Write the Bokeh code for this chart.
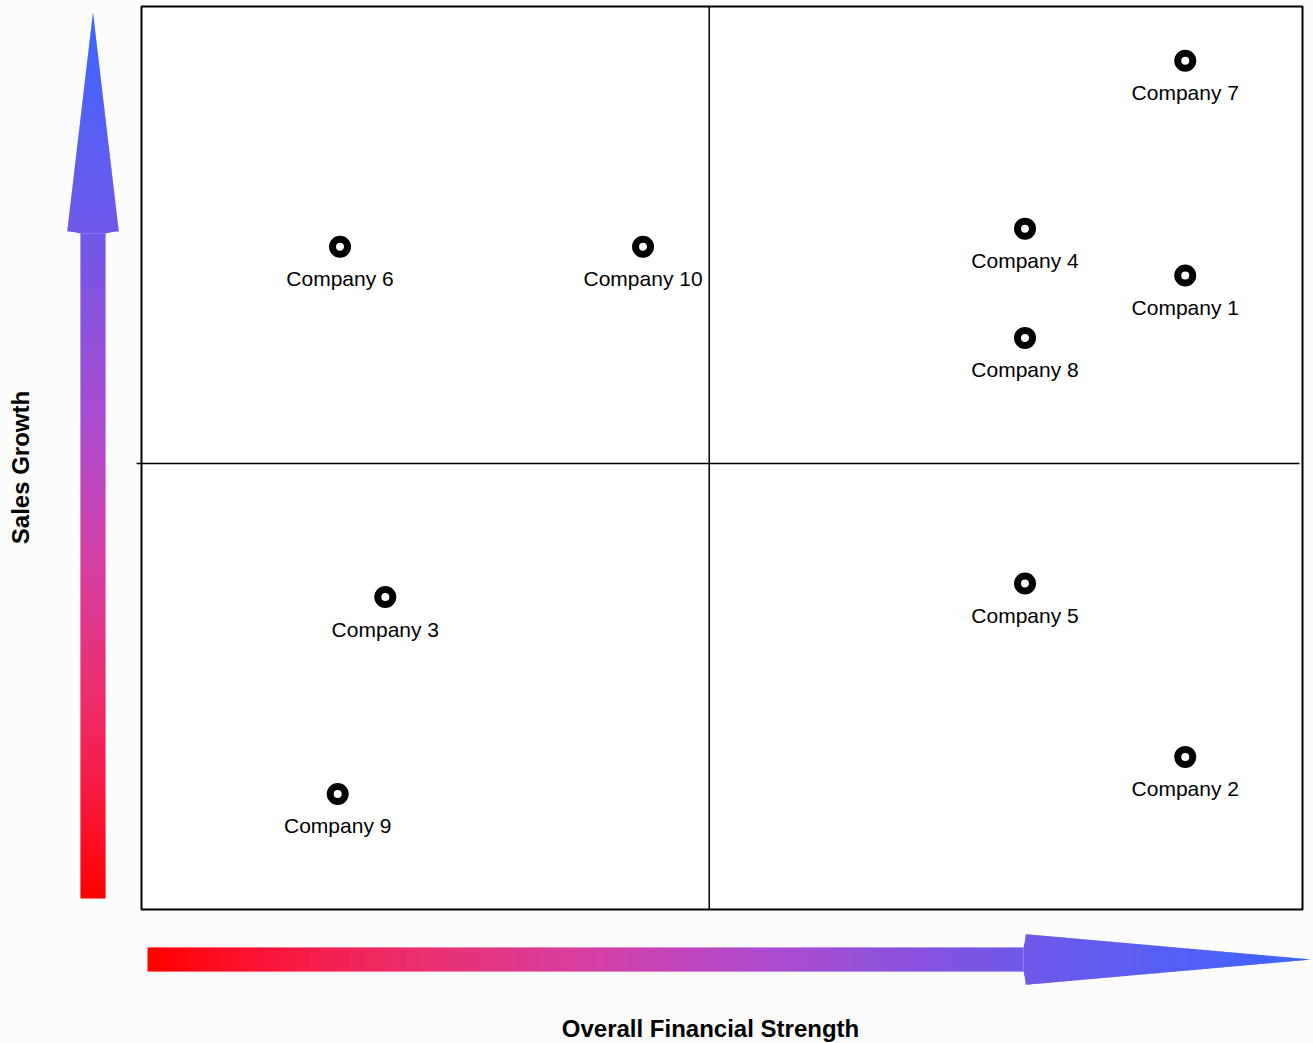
from bokeh.plotting import figure
from bokeh.models import Range1d, ColumnDataSource
from bokeh.core.properties import value
from bokeh.embed import file_html
from bokeh.resources import INLINE
import math

# ---------------- data ----------------
companies = ["Company 1", "Company 2", "Company 3", "Company 4", "Company 5",
             "Company 6", "Company 7", "Company 8", "Company 9", "Company 10"]
strength = [89.9, 89.9, 21.0, 76.1, 76.1, 17.1, 89.9, 76.1, 16.9, 43.2]   # x (0-100)
growth = [70.2, 16.9, 34.6, 75.4, 36.1, 73.4, 94.0, 63.3, 12.8, 73.4]     # y (0-100)
mid_strength = 48.9
mid_growth = 49.4
x_title = "Overall Financial Strength"
y_title = "Sales Growth"

# ---------------- layout (pixels) ----------------
W, H = 1313, 1043
BOX_L, BOX_R, BOX_T, BOX_B = 141, 1302, 6, 909


def dx(fx):
    return (fx - BOX_L) * 100.0 / (BOX_R - BOX_L)


def dy(fy):
    return (BOX_B - fy) * 100.0 / (BOX_B - BOX_T)


p = figure(width=W, height=H, output_backend="svg", toolbar_location=None,
           x_range=Range1d(dx(0), dx(W)), y_range=Range1d(dy(H), dy(0)),
           x_axis_location=None, y_axis_location=None, min_border=0)
p.grid.visible = False
p.outline_line_color = None
p.background_fill_color = "#fcfcfc"
p.border_fill_color = "#fcfcfc"

# gradient stops (fraction, r, g, b)
stops = [(0.0, 255, 0, 0), (0.13, 248, 28, 70), (0.26, 232, 50, 120),
         (0.39, 210, 64, 168), (0.52, 176, 74, 204), (0.75, 112, 88, 232),
         (1.0, 58, 102, 255)]


def grad(t):
    t = max(0.0, min(1.0, t))
    for (t0, r0, g0, b0), (t1, r1, g1, b1) in zip(stops[:-1], stops[1:]):
        if t <= t1:
            f = (t - t0) / (t1 - t0)
            return "#%02x%02x%02x" % (round(r0 + (r1 - r0) * f),
                                      round(g0 + (g1 - g0) * f),
                                      round(b0 + (b1 - b0) * f))
    return "#%02x%02x%02x" % stops[-1][1:]


def arrow_slices(start, head, tip, shaft_half, head_half, step=2.0):
    """list of (a, b, half_a, half_b, t) along the arrow axis, in px"""
    out = []
    total = tip - start
    sgn = 1 if total > 0 else -1

    def half(pos):
        if (pos - head) * sgn <= 0:
            return shaft_half
        return head_half * (tip - pos) / (tip - head)

    pos = start
    while (pos - tip) * sgn < 0:
        nxt = pos + sgn * step
        if (pos - head) * sgn < 0 < (nxt - head) * sgn:
            nxt = head
        if (nxt - tip) * sgn > 0:
            nxt = tip
        ext = nxt + sgn * 0.8
        if (ext - tip) * sgn > 0:
            ext = tip
        if (pos - head) * sgn < 0:
            ha, hb = shaft_half, shaft_half
            ext = min(ext, head) if sgn > 0 else max(ext, head)
        else:
            ha, hb = half(pos), half(ext)
        t = ((pos + nxt) / 2 - start) / total
        out.append((pos, ext, ha, hb, t))
        pos = nxt
    return out


xs_list, ys_list, cols = [], [], []
# horizontal arrow
cy = 959
for a, b, ha, hb, t in arrow_slices(147, 1023, 1311, 12, 25.5):
    xs_list.append([dx(a), dx(b), dx(b), dx(a)])
    ys_list.append([dy(cy - ha), dy(cy - hb), dy(cy + hb), dy(cy + ha)])
    cols.append(grad(t))
# vertical arrow
cx = 92.5
for a, b, ha, hb, t in arrow_slices(898, 233, 12, 12.5, 26):
    ys_list.append([dy(a), dy(b), dy(b), dy(a)])
    xs_list.append([dx(cx - ha), dx(cx - hb), dx(cx + hb), dx(cx + ha)])
    cols.append(grad(t))
p.patches(xs=xs_list, ys=ys_list, fill_color=cols, line_color=None)

# quadrant box
p.quad(left=[0], right=[100], bottom=[0], top=[100],
       fill_color="white", line_color="black", line_width=2)
p.segment(x0=[mid_strength], y0=[0], x1=[mid_strength], y1=[100],
          line_color="black", line_width=1.5)
p.segment(x0=[dx(BOX_L - 5)], y0=[mid_growth], x1=[dx(BOX_R - 3)], y1=[mid_growth],
          line_color="black", line_width=1.5)

src = ColumnDataSource(dict(x=strength, y=growth, name=companies))
p.scatter("x", "y", source=src, size=15, line_width=7,
          fill_color="white", line_color="black")
p.text("x", "y", text="name", source=src, text_align="center",
       text_baseline="middle", y_offset=32,
       text_font=value("Liberation Sans"), text_font_size="21px",
       text_color="black")

# axis titles
p.text(x=[dx(710)], y=[dy(1028)], text=[x_title], text_align="center",
       text_baseline="middle", text_font=value("Liberation Sans"),
       text_font_size="24px", text_font_style="bold", text_color="black")
p.text(x=[dx(20)], y=[dy(467)], text=[y_title], text_align="center",
       text_baseline="middle", angle=math.pi / 2,
       text_font=value("Liberation Sans"),
       text_font_size="24px", text_font_style="bold", text_color="black")

open("out.html", "w").write(file_html(p, INLINE))
